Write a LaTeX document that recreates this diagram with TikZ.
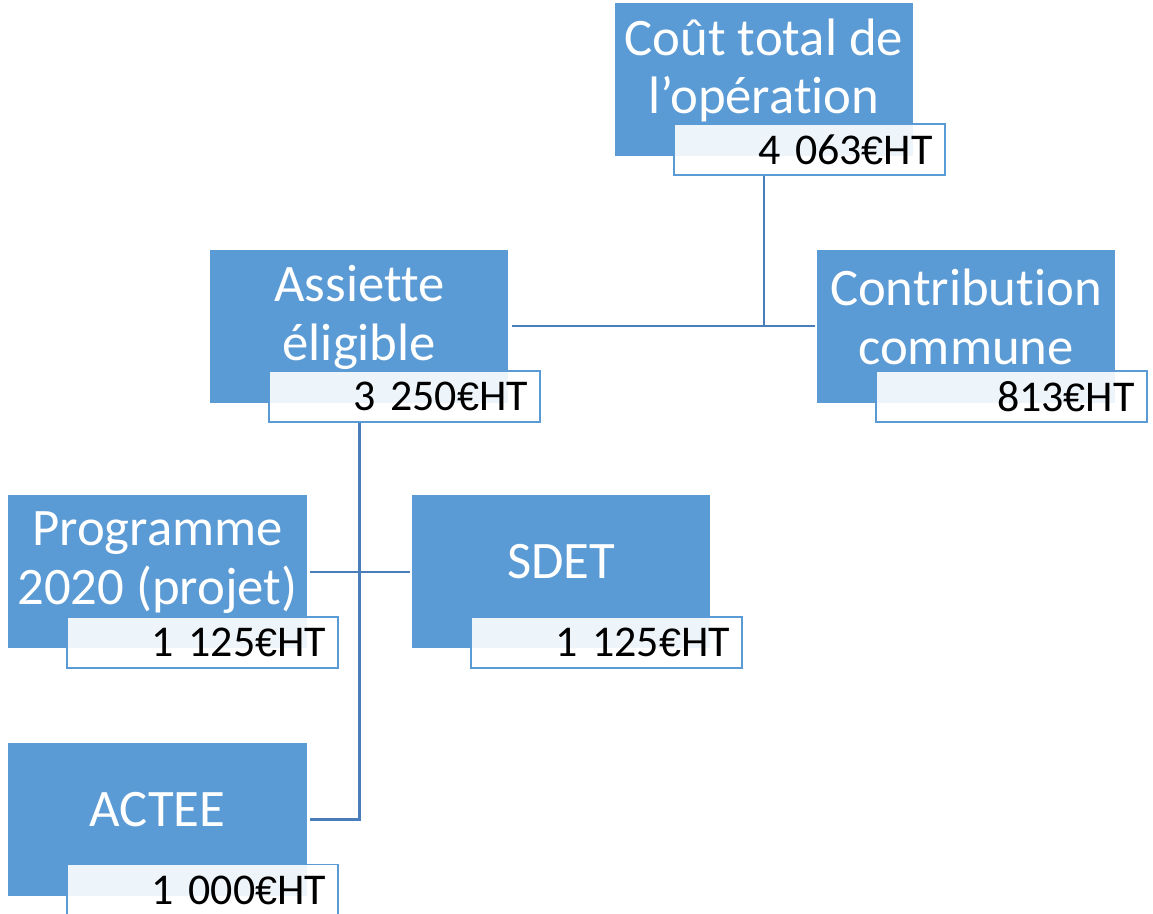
\documentclass[tikz,border=0pt]{standalone}
\usepackage{fontspec}
\setmainfont{Carlito}[Ligatures={CommonOff}]
\newfontfamily\eurfont{Liberation Sans}[Scale=0.9]
\usetikzlibrary{positioning,calc}
\definecolor{boxblue}{HTML}{5B9BD5}
\definecolor{linkblue}{HTML}{4A7EBB}
\newcommand\eur{{\eurfont €}}
\newcommand\valfont{\fontsize{25}{29}\selectfont\fontdimen2\font=0.15em\relax}

\begin{document}
\begin{tikzpicture}[
 blk/.style={fill=boxblue,minimum width=5.96cm,minimum height=3.06cm,inner sep=0pt},
 ttl/.style={text=white,align=center,inner sep=0pt,font=\fontsize{30}{33.5}\selectfont},
 val/.style={draw=boxblue,line width=1.1pt,fill=white,fill opacity=0.9,text opacity=1,anchor=north west,
   minimum height=1.02cm,text width=4.94cm,align=right,inner xsep=0.24cm,inner ysep=0pt,
   font=\valfont},
 link/.style={draw=linkblue,line width=1.4pt}]
\useasboundingbox (0,0) rectangle (23.06,18.28);
\node[blk] (cout) at (15.28,16.69) {};
\node[blk, below left=1.86cm and 2.12cm of cout] (asst) {};
\node[blk, right=6.16cm of asst] (contr) {};
\node[blk] (prog) at (3.15,6.84) {};
\node[blk, right=2.1cm of prog] (sdet) {};
\node[blk, below=1.88cm of prog] (actee) {};
\node[ttl] (coutt) at ([yshift=1.8mm]cout.center) {Coût total de\\l’opération};
\node[ttl] (asstt) at ([yshift=1.8mm]asst.center) {Assiette\\éligible};
\node[ttl] (contrt) at ([yshift=1.8mm]contr.center) {Contribution\\commune};
\node[ttl] (progt) at ([yshift=1.8mm]prog.center) {Programme\\2020 (projet)};
\node[ttl] (sdett) at ([yshift=2mm]sdet.center) {SDET};
\node[ttl] (acteet) at ([yshift=2mm]actee.center) {ACTEE};
\node[val] (coutv) at ([shift={(1.16,0.66)}]cout.south west) {4 063\eur HT};
\node[val] (asstv) at ([shift={(1.16,0.66)}]asst.south west) {3 250\eur HT};
\node[val] (contrv) at ([shift={(1.16,0.66)}]contr.south west) {813\eur HT};
\node[val] (progv) at ([shift={(1.16,0.66)}]prog.south west) {1 125\eur HT};
\node[val] (sdetv) at ([shift={(1.16,0.66)}]sdet.south west) {1 125\eur HT};
\node[val] (acteev) at ([shift={(1.16,0.66)}]actee.south west) {1 000\eur HT};
\draw[link] (coutv.south -| cout.south) -- (cout.south |- asst.east);
\draw[link] ([xshift=0.06cm]asst.east) -- ([xshift=-0.04cm]contr.west);
\draw[link] (asstv.south -| asst.south) |- ([xshift=0.06cm]actee.east);
\draw[link] ([xshift=0.06cm]prog.east) -- ([xshift=-0.04cm]sdet.west);
\end{tikzpicture}
\end{document}
